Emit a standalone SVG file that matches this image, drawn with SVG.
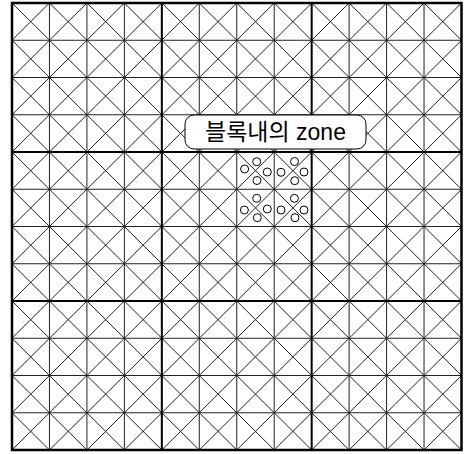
<svg xmlns="http://www.w3.org/2000/svg" width="465" height="454" viewBox="0 0 465 454">
<style>
.thin{fill:none;stroke:#222;stroke-width:1}
.thick{fill:none;stroke:#000;stroke-width:2}
.border{fill:none;stroke:#000;stroke-width:2.5}
.c{fill:#fff;stroke:#000;stroke-width:1}
.box{fill:#fff;stroke:#000;stroke-width:1}
.lbl{font-family:"Liberation Sans","Noto Sans CJK KR",sans-serif;font-size:23px;fill:#000}
</style>
<rect width="465" height="454" fill="#fff"/>
<g id="grid">
<path class="thin" d="M12 3L461.5 450M49.46 3L461.5 412.75M86.92 3L461.5 375.5M124.37 3L461.5 338.25M161.83 3L461.5 301M199.29 3L461.5 263.75M236.75 3L461.5 226.5M274.21 3L461.5 189.25M311.67 3L461.5 152M349.12 3L461.5 114.75M386.58 3L461.5 77.5M424.04 3L461.5 40.25M12 40.25L424.04 450M12 77.5L386.58 450M12 114.75L349.12 450M12 152L311.67 450M12 189.25L274.21 450M12 226.5L236.75 450M12 263.75L199.29 450M12 301L161.83 450M12 338.25L124.37 450M12 375.5L86.92 450M12 412.75L49.46 450"/>
<path class="thin" d="M12 40.25L49.46 3M12 77.5L86.92 3M12 114.75L124.37 3M12 152L161.83 3M12 189.25L199.29 3M12 226.5L236.75 3M12 263.75L274.21 3M12 301L311.67 3M12 338.25L349.12 3M12 375.5L386.58 3M12 412.75L424.04 3M12 450L461.5 3M49.46 450L461.5 40.25M86.92 450L461.5 77.5M124.37 450L461.5 114.75M161.83 450L461.5 152M199.29 450L461.5 189.25M236.75 450L461.5 226.5M274.21 450L461.5 263.75M311.67 450L461.5 301M349.12 450L461.5 338.25M386.58 450L461.5 375.5M424.04 450L461.5 412.75"/>
<path class="thin" d="M49.46 3V450M86.92 3V450M124.37 3V450M199.29 3V450M236.75 3V450M274.21 3V450M349.12 3V450M386.58 3V450M424.04 3V450M12 40.25H461.5M12 77.5H461.5M12 114.75H461.5M12 189.25H461.5M12 226.5H461.5M12 263.75H461.5M12 338.25H461.5M12 375.5H461.5M12 412.75H461.5"/>
<path class="thick" d="M161.83 3V450M311.67 3V450M12 152H461.5M12 301H461.5"/>
<rect class="border" x="12" y="3" width="449.5" height="447"/>
</g>
<g id="zone-circles">
<circle class="c" cx="256.7" cy="161.7" r="4"/>
<circle class="c" cx="244.6" cy="169" r="4"/>
<circle class="c" cx="267.3" cy="172" r="4"/>
<circle class="c" cx="257" cy="180.5" r="4"/>
<circle class="c" cx="294.5" cy="161.5" r="4"/>
<circle class="c" cx="281" cy="172.3" r="4"/>
<circle class="c" cx="304" cy="172" r="4"/>
<circle class="c" cx="294.7" cy="180.7" r="4"/>
<circle class="c" cx="256.7" cy="198.3" r="4"/>
<circle class="c" cx="244.4" cy="210" r="4"/>
<circle class="c" cx="267.3" cy="209" r="4"/>
<circle class="c" cx="257.3" cy="217.7" r="4"/>
<circle class="c" cx="294.4" cy="198.3" r="4"/>
<circle class="c" cx="281" cy="210" r="4"/>
<circle class="c" cx="304" cy="210" r="4"/>
<circle class="c" cx="295" cy="217.7" r="4"/>
</g>
<g id="label">
<rect class="box" x="185" y="115" width="181" height="34" rx="9"/>
<text class="lbl" x="275.5" y="140" text-anchor="middle">블록내의 zone</text>
</g>
</svg>
